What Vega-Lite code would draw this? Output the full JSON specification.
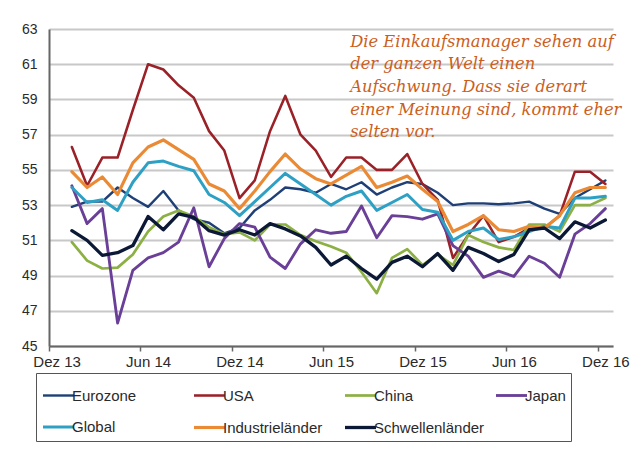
{
  "$schema": "https://vega.github.io/schema/vega-lite/v6.json",
  "autosize": {"type": "none"},
  "width": 564,
  "height": 317,
  "padding": {"left": 49, "top": 29, "right": 30, "bottom": 120},
  "background": "#ffffff",
  "config": {
    "view": {"stroke": null},
    "font": "Liberation Sans"
  },
  "encoding": {
    "x": {
      "field": "m",
      "type": "ordinal",
      "sort": null,
      "scale": {
        "type": "point",
        "padding": 0.5,
        "domain": ["Dez 13", "Jan 14", "Feb 14", "Mär 14", "Apr 14", "Mai 14", "Jun 14", "Jul 14", "Aug 14", "Sep 14", "Okt 14", "Nov 14", "Dez 14", "Jan 15", "Feb 15", "Mär 15", "Apr 15", "Mai 15", "Jun 15", "Jul 15", "Aug 15", "Sep 15", "Okt 15", "Nov 15", "Dez 15", "Jan 16", "Feb 16", "Mär 16", "Apr 16", "Mai 16", "Jun 16", "Jul 16", "Aug 16", "Sep 16", "Okt 16", "Nov 16", "Dez 16"]
      },
      "axis": {
        "title": null,
        "values": ["Dez 13", "Jun 14", "Dez 14", "Jun 15", "Dez 15", "Jun 16", "Dez 16"],
        "labelAngle": 0,
        "labelFont": "Liberation Sans",
        "labelFontSize": 15,
        "labelColor": "#2a2a2a",
        "labelPadding": 3,
        "labelOverlap": false,
        "tickSize": 5,
        "tickColor": "#666666",
        "tickWidth": 1.5,
        "tickOffset": -7.62,
        "labelOffset": 7.62,
        "domainColor": "#666666",
        "domainWidth": 2,
        "grid": false
      }
    },
    "y": {
      "field": "wert",
      "type": "quantitative",
      "scale": {"domain": [45, 63], "nice": false, "zero": false},
      "axis": {
        "title": null,
        "values": [45, 47, 49, 51, 53, 55, 57, 59, 61, 63],
        "labelFont": "Liberation Sans",
        "labelFontSize": 14,
        "labelColor": "#2a2a2a",
        "labelPadding": 12,
        "labelOverlap": false,
        "labelFlush": false,
        "labelBound": false,
        "ticks": false,
        "grid": true,
        "gridColor": "#c8c8c8",
        "gridWidth": 2,
        "domainColor": "#666666",
        "domainWidth": 2
      }
    }
  },
  "layer": [
    {
      "data": {
        "values": [
          {"m": "Jan 14", "Eurozone": 52.9, "USA": 56.3, "China": 50.9, "Japan": 54.1, "Global": 54.0, "Industrieländer": 54.9, "Schwellenländer": 51.55},
          {"m": "Feb 14", "Eurozone": 53.2, "USA": 54.1, "China": 49.85, "Japan": 51.95, "Global": 53.15, "Industrieländer": 54.0, "Schwellenländer": 51.0},
          {"m": "Mär 14", "Eurozone": 53.2, "USA": 55.7, "China": 49.4, "Japan": 52.8, "Global": 53.3, "Industrieländer": 54.6, "Schwellenländer": 50.15},
          {"m": "Apr 14", "Eurozone": 54.0, "USA": 55.7, "China": 49.45, "Japan": 46.3, "Global": 52.7, "Industrieländer": 53.6, "Schwellenländer": 50.3},
          {"m": "Mai 14", "Eurozone": 53.4, "USA": 58.4, "China": 50.2, "Japan": 49.3, "Global": 54.3, "Industrieländer": 55.4, "Schwellenländer": 50.7},
          {"m": "Jun 14", "Eurozone": 52.9, "USA": 61.0, "China": 51.5, "Japan": 50.0, "Global": 55.4, "Industrieländer": 56.3, "Schwellenländer": 52.35},
          {"m": "Jul 14", "Eurozone": 53.8, "USA": 60.7, "China": 52.35, "Japan": 50.3, "Global": 55.5, "Industrieländer": 56.7, "Schwellenländer": 51.6},
          {"m": "Aug 14", "Eurozone": 52.7, "USA": 59.8, "China": 52.7, "Japan": 50.9, "Global": 55.2, "Industrieländer": 56.15, "Schwellenländer": 52.5},
          {"m": "Sep 14", "Eurozone": 52.2, "USA": 59.1, "China": 52.35, "Japan": 52.85, "Global": 54.95, "Industrieländer": 55.6, "Schwellenländer": 52.3},
          {"m": "Okt 14", "Eurozone": 52.0, "USA": 57.2, "China": 51.75, "Japan": 49.5, "Global": 53.6, "Industrieländer": 54.2, "Schwellenländer": 51.55},
          {"m": "Nov 14", "Eurozone": 51.4, "USA": 56.1, "China": 51.35, "Japan": 51.1, "Global": 53.15, "Industrieländer": 53.8, "Schwellenländer": 51.3},
          {"m": "Dez 14", "Eurozone": 51.7, "USA": 53.4, "China": 51.45, "Japan": 51.95, "Global": 52.4, "Industrieländer": 52.8, "Schwellenländer": 51.6},
          {"m": "Jan 15", "Eurozone": 52.7, "USA": 54.4, "China": 51.0, "Japan": 51.75, "Global": 53.2, "Industrieländer": 53.8, "Schwellenländer": 51.3},
          {"m": "Feb 15", "Eurozone": 53.3, "USA": 57.2, "China": 51.9, "Japan": 50.05, "Global": 54.0, "Industrieländer": 54.9, "Schwellenländer": 51.95},
          {"m": "Mär 15", "Eurozone": 54.0, "USA": 59.2, "China": 51.9, "Japan": 49.4, "Global": 54.8, "Industrieländer": 55.9, "Schwellenländer": 51.65},
          {"m": "Apr 15", "Eurozone": 53.9, "USA": 57.0, "China": 51.3, "Japan": 50.8, "Global": 54.2, "Industrieländer": 55.05, "Schwellenländer": 51.25},
          {"m": "Mai 15", "Eurozone": 53.7, "USA": 56.1, "China": 50.95, "Japan": 51.6, "Global": 53.6, "Industrieländer": 54.5, "Schwellenländer": 50.6},
          {"m": "Jun 15", "Eurozone": 54.2, "USA": 54.6, "China": 50.65, "Japan": 51.4, "Global": 53.0, "Industrieländer": 54.2, "Schwellenländer": 49.6},
          {"m": "Jul 15", "Eurozone": 53.9, "USA": 55.7, "China": 50.3, "Japan": 51.5, "Global": 53.5, "Industrieländer": 54.7, "Schwellenländer": 50.1},
          {"m": "Aug 15", "Eurozone": 54.3, "USA": 55.7, "China": 49.2, "Japan": 52.95, "Global": 53.8, "Industrieländer": 55.2, "Schwellenländer": 49.4},
          {"m": "Sep 15", "Eurozone": 53.6, "USA": 55.0, "China": 48.0, "Japan": 51.15, "Global": 52.7, "Industrieländer": 54.0, "Schwellenländer": 48.8},
          {"m": "Okt 15", "Eurozone": 54.0, "USA": 55.0, "China": 50.0, "Japan": 52.4, "Global": 53.15, "Industrieländer": 54.3, "Schwellenländer": 49.75},
          {"m": "Nov 15", "Eurozone": 54.3, "USA": 55.9, "China": 50.5, "Japan": 52.35, "Global": 53.6, "Industrieländer": 54.65, "Schwellenländer": 50.1},
          {"m": "Dez 15", "Eurozone": 54.2, "USA": 54.2, "China": 49.6, "Japan": 52.2, "Global": 52.75, "Industrieländer": 53.9, "Schwellenländer": 49.5},
          {"m": "Jan 16", "Eurozone": 53.7, "USA": 53.3, "China": 50.2, "Japan": 52.5, "Global": 52.6, "Industrieländer": 53.2, "Schwellenländer": 50.25},
          {"m": "Feb 16", "Eurozone": 53.0, "USA": 50.0, "China": 49.6, "Japan": 50.7, "Global": 51.0, "Industrieländer": 51.5, "Schwellenländer": 49.3},
          {"m": "Mär 16", "Eurozone": 53.1, "USA": 51.3, "China": 51.3, "Japan": 50.1, "Global": 51.5, "Industrieländer": 51.9, "Schwellenländer": 50.6},
          {"m": "Apr 16", "Eurozone": 53.1, "USA": 52.4, "China": 50.9, "Japan": 48.9, "Global": 51.7, "Industrieländer": 52.4, "Schwellenländer": 50.25},
          {"m": "Mai 16", "Eurozone": 53.05, "USA": 50.9, "China": 50.6, "Japan": 49.25, "Global": 51.05, "Industrieländer": 51.6, "Schwellenländer": 49.8},
          {"m": "Jun 16", "Eurozone": 53.1, "USA": 51.2, "China": 50.45, "Japan": 48.95, "Global": 51.2, "Industrieländer": 51.5, "Schwellenländer": 50.2},
          {"m": "Jul 16", "Eurozone": 53.2, "USA": 51.7, "China": 51.9, "Japan": 50.1, "Global": 51.5, "Industrieländer": 51.8, "Schwellenländer": 51.6},
          {"m": "Aug 16", "Eurozone": 52.8, "USA": 51.7, "China": 51.9, "Japan": 49.7, "Global": 51.8, "Industrieländer": 51.7, "Schwellenländer": 51.7},
          {"m": "Sep 16", "Eurozone": 52.5, "USA": 52.4, "China": 51.5, "Japan": 48.9, "Global": 51.7, "Industrieländer": 52.4, "Schwellenländer": 51.1},
          {"m": "Okt 16", "Eurozone": 53.4, "USA": 54.9, "China": 53.0, "Japan": 51.35, "Global": 53.4, "Industrieländer": 53.7, "Schwellenländer": 52.05},
          {"m": "Nov 16", "Eurozone": 53.9, "USA": 54.9, "China": 53.0, "Japan": 51.95, "Global": 53.4, "Industrieländer": 54.0, "Schwellenländer": 51.7},
          {"m": "Dez 16", "Eurozone": 54.4, "USA": 54.2, "China": 53.4, "Japan": 52.8, "Global": 53.5, "Industrieländer": 54.0, "Schwellenländer": 52.15}
        ]
      },
      "transform": [
        {"fold": ["Eurozone", "USA", "China", "Japan", "Global", "Industrieländer", "Schwellenländer"], "as": ["serie", "wert"]}
      ],
      "mark": {"type": "line", "strokeJoin": "round", "strokeCap": "round"},
      "encoding": {
        "color": {
          "field": "serie",
          "type": "nominal",
          "scale": {
            "domain": ["Eurozone", "USA", "China", "Japan", "Global", "Industrieländer", "Schwellenländer"],
            "range": ["#1f3f77", "#9a2127", "#8cb043", "#6a3f97", "#2ea0c4", "#ea8a35", "#0b1836"]
          },
          "legend": {
            "title": null,
            "orient": "none",
            "legendX": -13,
            "legendY": 344,
            "direction": "horizontal",
            "columns": 4,
            "gridAlign": "all",
            "symbolType": "stroke",
            "symbolSize": 961,
            "symbolStrokeWidth": 4,
            "labelFont": "Liberation Sans",
            "labelFontSize": 15,
            "labelColor": "#2a2a2a",
            "labelOffset": -4,
            "labelLimit": 200,
            "columnPadding": 4,
            "rowPadding": 6,
            "padding": 5,
            "strokeColor": "#555555",
            "fillColor": "#ffffff"
          }
        },
        "strokeWidth": {
          "field": "serie",
          "type": "nominal",
          "scale": {
            "domain": ["Eurozone", "USA", "China", "Japan", "Global", "Industrieländer", "Schwellenländer"],
            "range": [2.4, 3.3, 3.3, 3.3, 3.7, 3.7, 3.7]
          },
          "legend": null
        }
      }
    },
    {
      "data": {
        "values": [
          {"m": "Jul 15", "wert": 61.99, "txt": ["Die Einkaufsmanager sehen auf", "der ganzen Welt einen", "Aufschwung. Dass sie derart", "einer Meinung sind, kommt eher", "selten vor."]}
        ]
      },
      "mark": {
        "type": "text",
        "align": "left",
        "baseline": "alphabetic",
        "dx": 4,
        "font": "DejaVu Serif",
        "fontStyle": "italic",
        "fontSize": 16.3,
        "lineHeight": 22.6,
        "color": "#cc5e1c"
      },
      "encoding": {
        "text": {"field": "txt"}
      }
    }
  ]
}
